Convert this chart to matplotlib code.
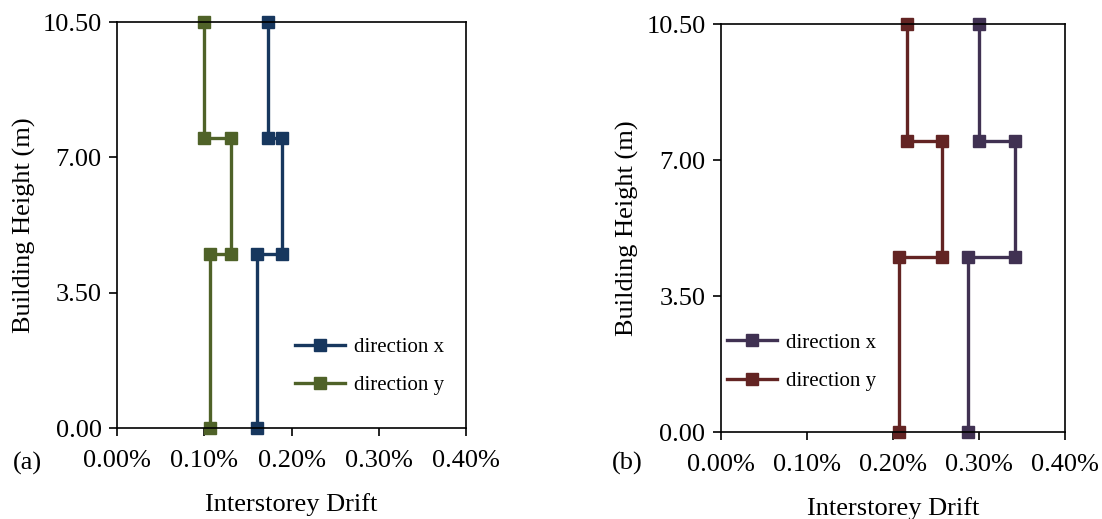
import numpy as np
import matplotlib.pyplot as plt
from matplotlib.ticker import FuncFormatter

plt.rcParams['font.family'] = ['Liberation Serif', 'DejaVu Serif']

# storey levels (m), stepped profile
heights = [0, 4.5, 4.5, 7.5, 7.5, 10.5]

# panel (a) drifts in %
drift_a_x = [0.160, 0.160, 0.189, 0.189, 0.173, 0.173]
drift_a_y = [0.107, 0.107, 0.131, 0.131, 0.100, 0.100]

# panel (b) drifts in %
drift_b_x = [0.287, 0.287, 0.342, 0.342, 0.300, 0.300]
drift_b_y = [0.207, 0.207, 0.257, 0.257, 0.216, 0.216]

x_ticks = [0.0, 0.1, 0.2, 0.3, 0.4]
y_ticks = [0.0, 3.5, 7.0, 10.5]

fs = 19

fig = plt.figure(figsize=(11.02, 5.19), dpi=100)
ax1 = fig.add_axes([0.1062, 0.1753, 0.3167, 0.7823])
ax2 = fig.add_axes([0.654, 0.1676, 0.3124, 0.7861])


def setup(ax, dx, dy, cx, cy, tag, tag_x, leg_loc):
    ax.plot(dx, heights, color=cx, lw=2.4, marker='s', ms=8.5, label='direction x')
    ax.plot(dy, heights, color=cy, lw=2.4, marker='s', ms=8.5, label='direction y')
    ax.set_xlim(0, 0.4)
    ax.set_ylim(0, 10.5)
    ax.set_xticks(x_ticks)
    ax.set_yticks(y_ticks)
    ax.xaxis.set_major_formatter(FuncFormatter(lambda v, p: '%.2f%%' % v))
    ax.yaxis.set_major_formatter(FuncFormatter(lambda v, p: '%.2f' % v))
    ax.tick_params(direction='out', length=6, width=1.2, labelsize=fs)
    ax.tick_params(axis='x', pad=10)
    ax.tick_params(axis='y', pad=5)
    for s in ax.spines.values():
        s.set_linewidth(1.2)
    for m in ax.lines:
        m.set_clip_on(False)
    ax.set_xlabel('Interstorey Drift', fontsize=fs, labelpad=15)
    ax.set_ylabel('Building Height (m)', fontsize=fs, labelpad=5)
    ax.legend(loc=leg_loc, frameon=False, fontsize=15, handlelength=2.4,
              handletextpad=0.4, labelspacing=0.9)
    fig.text(tag_x, 1 - 452 / 519, tag, fontsize=fs, ha='left', va='top')


setup(ax1, drift_a_x, drift_a_y, '#17375E', '#4F6228', '(a)', 13 / 1102, (0.487, 0.06))
setup(ax2, drift_b_x, drift_b_y, '#403152', '#632423', '(b)', 612 / 1102, (-0.005, 0.08))

fig.savefig('out.png', dpi=100)
